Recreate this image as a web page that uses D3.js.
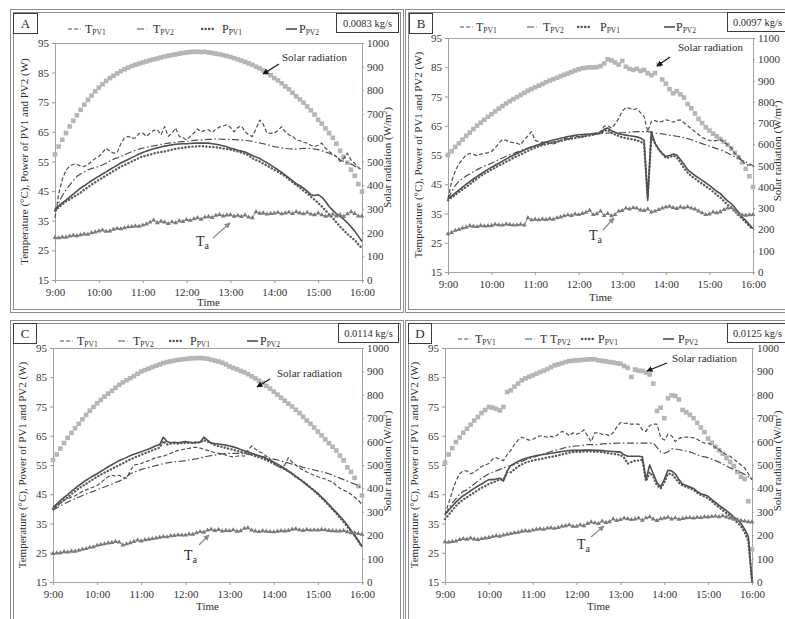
<!DOCTYPE html>
<html>
<head>
<meta charset="utf-8">
<script src="https://cdn.jsdelivr.net/npm/d3@7"></script>
<style>
  body { margin: 0; background: #fff; }
  svg { display: block; }
  text { font-family: "Liberation Serif", "Times New Roman", serif; fill: #2e2e2e; }
  .frame { fill: none; stroke: #8c8c8c; stroke-width: 1; }
  .tick line { stroke: #9a9a9a; }
  .tick text { font-size: 11px; fill: #333; }
</style>
</head>
<body>
<svg id="fig" width="785" height="619"></svg>
<script>
// ---- axis labels ----
const timeTicks = ["9:00", "10:00", "11:00", "12:00", "13:00", "14:00", "15:00", "16:00"];
const hourMinutes = [0, 60, 120, 180, 240, 300, 360, 420];
const leftTicks = [15, 25, 35, 45, 55, 65, 75, 85, 95];
const rightTicks1000 = [0, 100, 200, 300, 400, 500, 600, 700, 800, 900, 1000];
const rightTicks1100 = [0, 100, 200, 300, 400, 500, 600, 700, 800, 900, 1000, 1100];
// one sample every 5 minutes from 9:00 to 16:00
const sampleMinutes = d3.range(0, 421, 5);

// ---- panel A: 0.0083 kg/s ----
const solarA = [530,563,592,620,648,672,695,718,740,760,778,796,812,
  826,840,852,862,872,881,889,896,903,908,913,918,
  922,927,931,935,939,943,946,949,952,955,958,960,
  962,963,963,962,963,960,958,955,952,949,945,941,
  936,931,926,920,914,908,900,893,884,874,864,852,
  842,830,817,805,790,775,762,748,732,716,698,676,
  660,640,620,600,575,545,520,495,465,440,405,373];
const taA = [29.3,29.2,29.5,29.4,29.8,30.1,29.9,30.2,30.5,30.4,30.9,31.2,31.5,
  31.8,31.4,31.5,32.1,32.4,32.3,32.6,32.9,33.0,33.2,33.1,33.5,
  33.9,34.5,35.2,34.3,34.8,34.5,34.0,34.6,34.3,35.0,34.7,35.4,
  35.1,35.6,36.0,35.5,36.2,36.4,36.1,36.8,37.1,36.6,36.9,37.0,
  36.5,36.8,36.4,36.9,36.2,36.0,38.0,37.5,37.6,37.2,37.4,37.5,
  37.8,37.3,37.6,37.9,37.4,38.0,37.6,37.3,37.8,37.2,37.0,37.6,
  37.0,36.5,36.8,37.2,36.6,37.0,36.4,37.3,38.0,37.4,36.6,36.6];
const tpv1A = [36,44,49,52,53.5,54,54,53.5,53.3,54,55,56,56.7,
  58,59.5,58.5,57.8,58,61,63,63.5,62.8,63,64.5,64.6,
  63.5,64.5,65.5,65.7,64,66.8,63.5,64.5,66.3,63.5,63,62.3,
  63.5,64.6,66,65,65.5,65.7,64.8,66,66.6,67,67.4,66.5,
  65,66.5,67,65.1,64,63.4,66,69,67.5,64.6,64.5,64.6,
  65.5,66.8,65,64,63.5,62.3,62,61.5,61.2,60.5,60,60.5,
  61.2,59.5,58.4,57.5,56.7,55,56,57.8,55.5,54.4,53,52.2];
const tpv2A = [38,41,43.5,45.4,47,48.6,50,50.8,51.5,52.2,52.6,53,53.3,
  53.8,54.5,55.2,55.8,56.2,56.7,57.2,57.8,58.3,58.8,59.2,59.5,
  59.8,60.1,60.3,60.5,60.8,61,61.2,61.3,61.5,61.6,61.7,61.8,
  62,62.1,62.2,62.3,62.4,62.5,62.5,62.6,62.6,62.5,62.5,62.5,
  62.4,62.3,62.2,62.1,62,61.8,61.5,61.3,61,60.7,60.4,60,
  59.8,59.6,59.4,59.3,59.2,59.2,59.3,59.4,59.5,59.4,59.2,59,
  58.6,58.2,57.8,57.3,56.6,55.6,55,54.6,54.2,53.5,52.8,52.2];
const ppv1A = [38.5,39.5,40.5,41.5,42.2,43,43.7,44.5,45.5,46.3,47.2,48,48.8,
  49.5,50.3,51,51.8,52.5,53.3,53.8,54.4,55,55.6,56.2,56.7,
  57,57.3,57.7,58,58.2,58.4,58.7,59,59.3,59.5,59.6,59.8,
  60,60,60.1,60.2,60.1,60,59.9,59.8,59.6,59.4,59.2,59,
  58.7,58.4,58,57.6,57.1,56.1,55.5,55,54.3,53.6,52.9,52.2,
  51.5,50.8,50,49,48,47.1,46.2,45.2,44.2,43.2,42.1,41,
  39.8,38.5,37.2,35.9,34.5,33,31.8,30.5,29.5,28.5,27,25.7];
const ppv2A = [39,40,41,42,43,44,45,46,46.8,47.7,48.5,49.3,50,
  50.8,51.5,52.3,53,53.7,54.5,55.1,55.7,56.3,56.9,57.5,58,
  58.5,58.9,59.3,59.6,59.9,60.2,60.4,60.6,60.8,60.9,61,61,
  61.1,61.2,61.2,61.2,61.2,61.2,61,60.8,60.6,60.3,60,59.5,
  59.2,58.8,58.5,58.2,57.6,57,56.5,56,55.3,54.6,53.8,53,
  52.2,51.3,50.4,49.5,48.5,47.5,46.8,46,45,43.8,43.5,43.8,
  43,41.5,39.8,38.5,37.4,36.5,35.5,34.3,33,31.5,29.8,28];

// ---- panel B: 0.0097 kg/s ----
const solarB = [550,568,588,605,622,640,655,672,688,702,716,730,742,
  755,768,780,792,803,813,822,832,842,852,860,868,
  876,884,892,900,906,913,920,927,933,940,947,953,
  958,960,962,962,963,968,980,1000,995,985,975,992,
  965,955,950,955,945,950,935,925,935,975,905,885,
  860,840,850,835,820,790,770,745,720,700,680,665,
  650,638,626,612,598,580,560,540,515,485,450,400];
const taB = [28.0,28.5,29.2,29.5,30.0,30.3,30.8,30.6,30.5,30.9,30.7,30.8,30.9,
  31.3,31.1,31.0,31.4,31.2,31.0,31.1,31.3,31.0,33.5,32.8,33.0,
  32.8,33.1,32.9,33.2,33.0,33.5,33.8,34.2,34.5,34.3,34.8,34.6,
  35.0,35.4,36.1,34.6,34.9,35.8,34.3,35.0,34.2,34.6,35.8,36.0,
  36.8,36.5,37.0,36.8,36.2,36.0,36.5,35.5,35.8,36.3,36.8,37.2,
  37.4,37.0,36.7,37.2,36.9,37.3,36.8,36.5,35.8,35.2,34.6,34.8,
  35.5,35.2,35.6,36.3,36.8,37.0,36.2,34.8,34.5,34.4,34.5,34.6];
const tpv1B = [40,46,49.5,52,53.5,55,55.5,55.2,54.8,55.3,55.5,55.8,56.2,
  57.5,59,60.3,60,59.5,59.2,59,58.5,60.2,61.5,63,60,
  59.5,59.3,59.6,59,58.8,59.2,60,60.5,61,61.2,61.5,61.2,
  61.8,62.2,61.5,62,62.6,63,64.8,65,64.2,65.5,67.5,70,
  71.2,71,70.5,70.8,69.5,68.2,63,66.5,66.8,66.2,66.5,67,
  66.8,66.2,66.8,67,66,65,64,63,62,61,60.5,60,
  59.8,60,60.2,59.5,58.5,57.5,55.5,54.5,53,51.8,51.5,51];
const tpv2B = [40,42.5,44.5,46,47,47.8,48.5,49.3,50,50.6,51.2,51.7,52.2,
  52.8,53.4,54,54.6,55.1,55.5,56,56.5,57,57.4,57.8,58,
  58.3,58.6,58.9,59.2,59.4,59.6,59.9,60.2,60.5,60.7,60.9,61.1,
  61.3,61.5,61.7,61.9,62.1,62.3,62.4,62.5,62.6,62.6,62.6,62.6,
  62.7,62.8,62.9,63,63,63,63,62.8,62.5,62.4,62.2,62,
  61.8,61.6,61.4,61.2,60.9,60.6,60.2,59.8,59.3,58.9,58.4,58,
  57.6,57.2,56.8,56.3,55.7,55,54.4,53.8,53.2,52.6,52,51.3];
const ppv1B = [39.5,40.5,41.4,42.3,43.2,44.1,45,46,46.9,47.8,48.6,49.3,50,
  50.7,51.4,52,52.7,53.3,54,54.6,55.2,55.8,56.4,57,57.5,
  57.9,58.3,58.7,59,59.3,59.5,59.8,60.1,60.4,60.6,60.8,61,
  61.2,61.5,61.8,62,62.3,62.5,63.2,63.6,62.6,62,61.5,61,
  60.8,60.5,60.3,60,59.6,58.8,40.5,61.5,59,57,55.5,54,
  54.2,54.8,54.2,52.5,50.5,49,47.8,47,46,45.2,44.3,43.5,
  42.5,41.4,40.5,39.2,38,37,35.8,34.5,33.2,32,30.8,29.5];
const ppv2B = [40,41,42,43,44,45,45.9,46.8,47.7,48.5,49.3,50.1,50.8,
  51.5,52.2,52.9,53.6,54.3,54.9,55.5,56.1,56.7,57.2,57.7,58.2,
  58.6,59,59.4,59.8,60.1,60.4,60.7,61,61.3,61.5,61.7,61.9,
  62,62.1,62.2,62.3,62.4,62.5,63.8,64.2,63.3,62.8,62.3,62,
  61.8,61.6,61.4,61.2,60.8,60,39.5,63,59,57,55.5,54.5,
  54.8,55.3,55,53.5,51.8,50,49,48,47.2,46.3,45.5,44.6,
  43.6,42.6,41.8,40.5,39.3,38.4,37,35.5,33.8,32.6,31.2,29.8];

// ---- panel C: 0.0114 kg/s ----
const solarC = [521,545,570,594,616,637,657,676,695,714,732,748,764,
  778,792,805,817,830,843,853,862,871,880,890,900,
  906,912,918,924,930,936,940,943,946,949,951,953,
  955,956,957,957,956,954,950,946,942,937,930,921,
  915,909,902,896,888,879,870,860,850,838,826,814,
  801,788,775,762,750,736,722,706,690,676,660,643,
  627,610,593,578,562,540,520,490,471,445,410,370];
const taC = [24.7,24.9,25.0,25.3,25.2,25.5,25.5,25.8,26.2,26.4,26.8,27.0,27.5,
  27.8,28.0,28.3,28.5,28.8,28.6,27.6,28.0,28.4,28.8,29.3,29.0,
  29.4,29.6,29.8,30.0,30.3,30.5,30.4,30.8,30.9,31.1,31.0,31.0,
  31.4,31.3,31.8,32.2,32.0,32.7,33.0,32.6,32.9,32.4,32.6,32.5,
  32.8,32.3,32.5,33.3,33.5,32.7,32.4,32.2,32.5,32.3,32.2,32.1,
  32.3,32.5,32.4,32.6,33.0,33.2,32.8,32.6,32.9,32.7,32.8,32.7,
  32.9,32.8,32.6,32.5,32.4,32.4,32.6,32.1,31.8,31.8,31.5,31.3];
const tpv1C = [40,41,42,43,43.5,44,44.5,45.2,46,46.5,47,47.5,48,
  49,50,51,51.5,51.2,51.5,50.8,50.5,53,55,55.2,55.5,
  56,56.5,57,57.5,57.8,58,58.5,59,59.5,60,60.2,60.5,
  60.7,61,61,60.8,60.3,60,59.6,59.2,59,58.8,58.4,58,
  57.8,58,58.2,58,60,61.5,60.5,59.6,59,58,57,55.5,
  54.6,54,55,57.5,56,55,54,53.3,52.6,52,51.5,51,
  50.5,50.2,49.6,49.2,48,47,46.4,45.8,45,44,43,41.5];
const tpv2C = [39.5,40.3,41,41.7,42.3,42.9,43.5,44,44.6,45.1,45.6,46,46.5,
  47,47.5,48,48.5,49,49.5,50,51,52,52.5,53,53.5,
  53.8,54.2,54.5,54.8,55.1,55.5,55.7,55.9,56.1,56.2,56.3,56.5,
  56.7,56.9,57.1,57.4,57.7,58,58.2,58.4,58.6,58.8,59,59,
  59,59,58.9,58.8,58.7,58.5,58.3,58.1,57.9,57.6,57.3,57,
  56.7,56.4,56,55.7,55.3,55,54.6,54.2,53.9,53.6,53.3,53,
  52.7,52.4,52,51.5,51,50.5,50,49.5,49,48.5,47.8,47];
const ppv1C = [40,41,42,43,44,45,46,47,47.8,48.6,49.4,50.2,51,
  51.7,52.4,53,53.7,54.3,55,55.6,56.3,56.9,57.4,58,58.5,
  59,59.5,60,60.5,61,63.2,62,62.3,62.4,62.3,62.5,62.5,
  62.6,62.7,62.7,62.8,63.5,63,62.5,61.8,61.5,61.2,60.8,60.5,
  60.2,59.8,59.5,59.2,58.8,58.5,58,57.6,57.2,56.7,56.1,55.5,
  54.8,54.2,53.5,52.8,52,51,50.2,49.3,48.4,47.3,46.2,45,
  43.8,42.5,41.2,39.8,38.5,37,35.6,34,32.4,30.8,29,27];
const ppv2C = [40.5,41.6,42.8,43.9,44.9,46,47,48,48.9,49.8,50.6,51.3,52,
  52.8,53.6,54.4,55.1,55.8,56.5,57,57.6,58.2,58.7,59.1,59.5,
  60,60.5,61,61.6,62,64.5,63,62.6,62.8,62.6,62.8,63,
  62.8,62.5,62.7,62.8,64.5,63.5,62.5,62.3,62.2,62,61.8,61.5,
  61.2,60.8,60.3,59.9,59.5,59,58.6,58.2,57.7,57.2,56.6,56,
  55.3,54.6,53.8,53,52.1,51.1,50.2,49.2,48.2,47.2,46.2,45.2,
  44,42.8,41.5,40.1,38.8,37.5,36,34.4,32.7,31,29.2,27];

// ---- panel D: 0.0125 kg/s ----
const solarD = [510,545,572,598,618,638,655,672,690,705,722,735,748,
  745,740,733,748,812,819,835,848,862,870,877,883,
  890,897,903,910,918,926,930,935,940,944,946,947,
  948,950,951,952,952,947,945,943,940,938,935,933,
  923,915,876,908,903,902,895,887,848,731,745,700,
  785,798,795,780,735,725,715,700,680,660,640,613,
  595,578,563,548,530,513,495,470,450,440,345,140];
const taD = [28.7,28.6,28.8,29.0,29.5,29.8,29.6,30.0,29.7,29.5,29.8,30.0,30.2,
  30.5,30.8,30.6,31.0,31.3,31.5,31.8,32.0,32.3,32.5,32.4,32.7,
  33.0,33.2,33.0,33.4,33.5,33.3,33.6,34.0,34.2,34.5,34.0,34.0,
  34.5,34.2,35.0,35.5,35.2,35.0,35.8,35.3,35.6,36.5,36.0,36.3,
  36.8,36.6,36.3,36.5,36.8,36.1,36.9,37.3,36.5,36.0,36.6,36.8,
  37.1,36.5,36.9,36.4,36.7,36.9,37.0,36.8,37.1,37.0,37.3,37.2,
  37.4,37.5,37.3,37.6,37.2,36.8,36.5,36.3,36.0,35.8,35.6,35.5];
const tpv1D = [38,42,46,49.5,52,53,53,52,52.5,53.5,54.5,55,55.5,
  57,57.5,57,56.5,58.5,60,62,63.5,64.5,64,63.5,63.8,
  64.5,65,64.8,64.5,64.8,64.5,65.5,66.5,66,65,66,65.5,
  66,67,65,63,66,66,65.5,65.5,65,66,68,69.5,
  69.3,69.2,69,69,69,67,66.5,68.5,69,69,64.5,63.5,
  65.5,65,63,64,64.5,64.5,64.5,64.3,63.8,63,62.5,62.5,
  61.8,61,60.2,59.3,58.5,58,57,56,55,54,52,50];
const tpv2D = [38,40,42,43.5,45,46,46.5,47.5,48.5,49.5,50.5,51.2,52,
  52.5,53,53.5,54,54.5,54.8,55.2,55.6,56.2,56.8,57.2,57.5,
  58,58.4,58.8,59.2,59.6,60,60.3,60.6,61,61.2,61.4,61.5,
  61.6,61.8,62,62,62,62,62.2,62.3,62.3,62.4,62.5,62.5,
  62.5,62.5,62.5,62.5,62.5,62.5,62.5,62.5,62.5,61,59.5,59,
  59.5,60.5,60.5,60.3,60,59.8,59.5,59,58.5,58,57.8,57.5,
  57,56.5,56,55.3,54.7,54,53.5,53,52.4,51.8,51,50];
const ppv1D = [36.5,38,39.5,41,42.2,43.2,44,44.8,45.6,46.4,47.2,47.8,48.5,
  49,49.5,50,50,52.5,52.5,53.5,54.5,55.2,55.8,56.2,56.5,
  56.8,57,57.3,57.6,57.8,58,58.3,58.6,58.9,59.2,59.4,59.5,
  59.5,59.6,59.6,59.6,59.5,59.5,59.4,59.2,59,58.8,58.6,58.5,
  57.5,55.5,56,56.5,56.5,56.8,49.5,52.5,51,48,47,49,
  52,52,50.5,49,48,47.5,47,46.5,45.5,44.8,44.2,43.6,
  42.6,41.5,40.5,39.5,38.5,37.5,36.5,35.3,34,32,29,15];
const ppv2D = [38,39.5,41,42.3,43.5,44.5,45.3,46.2,47,47.8,48.5,49.3,50,
  50,50.2,50.5,49.5,53,54.8,55.5,56.2,56.8,57.2,57.6,57.9,
  58.2,58.4,58.6,58.8,59,59.2,59.4,59.6,59.8,59.9,60,60,
  60,60.1,60.1,60.1,60,60,59.9,59.8,59.7,59.6,59.5,59.5,
  58.5,58,58,58,58,57.8,50,55,52,49,47.5,50,
  53.2,53,52,50,48.5,48,47.5,47,46,45.2,44.8,44.3,
  43.2,42.2,41.2,40.3,39.4,38.4,37.3,36.2,35,33,30.5,15.5];

// ---- panel layout ----
const panels = [
  { letter: "A", rate: "0.0083 kg/s", frame: [10, 9, 403, 312], plot: [55, 43, 362, 280],
    rmax: 1000, rTicks: rightTicks1000, legendY: 33,
    legendGlyphX: [68, 137, 202, 286], legendTextX: [85, 153, 222, 299], pv2Prefix: "T",
    letterBox: [13, 13, 24, 20], rateBox: [336, 13, 62, 19],
    solarText: [282, 61], solarArrow: [279, 64, 263, 74],
    taText: [196, 246], taArrow: [213, 238, 230, 223],
    leftTitleX: 28, rightTitleX: 391, timeY: 306,
    solar: solarA, ta: taA, tpv1: tpv1A, tpv2: tpv2A, ppv1: ppv1A, ppv2: ppv2A },
  { letter: "B", rate: "0.0097 kg/s", frame: [405, 9, 800, 312], plot: [448, 38, 753, 272],
    rmax: 1100, rTicks: rightTicks1100, legendY: 31,
    legendGlyphX: [460, 527, 578, 664], legendTextX: [476, 543, 600, 676], pv2Prefix: "T",
    letterBox: [409, 13, 23, 20], rateBox: [727, 12, 60, 19],
    solarText: [678, 51], solarArrow: [670, 57, 657, 66],
    taText: [589, 240], taArrow: [603, 230, 614, 218],
    leftTitleX: 422, rightTitleX: 781, timeY: 301,
    solar: solarB, ta: taB, tpv1: tpv1B, tpv2: tpv2B, ppv1: ppv1B, ppv2: ppv2B },
  { letter: "C", rate: "0.0114 kg/s", frame: [10, 320, 403, 625], plot: [53, 348, 362, 582],
    rmax: 1000, rTicks: rightTicks1000, legendY: 345,
    legendGlyphX: [60, 118, 170, 247], legendTextX: [77, 133, 190, 260], pv2Prefix: "T",
    letterBox: [13, 323, 23, 20], rateBox: [338, 323, 60, 19],
    solarText: [277, 377], solarArrow: [270, 379, 257, 387],
    taText: [184, 560], taArrow: [199, 545, 209, 535],
    leftTitleX: 26, rightTitleX: 391, timeY: 610,
    solar: solarC, ta: taC, tpv1: tpv1C, tpv2: tpv2C, ppv1: ppv1C, ppv2: ppv2C },
  { letter: "D", rate: "0.0125 kg/s", frame: [405, 320, 800, 625], plot: [445, 348, 752, 582],
    rmax: 1000, rTicks: rightTicks1000, legendY: 343,
    legendGlyphX: [458, 525, 582, 663], legendTextX: [475, 540, 598, 678], pv2Prefix: "T T",
    letterBox: [408, 323, 23, 20], rateBox: [727, 323, 60, 19],
    solarText: [672, 362], solarArrow: [667, 363, 647, 371],
    taText: [577, 549], taArrow: [591, 537, 604, 526],
    leftTitleX: 418, rightTitleX: 781, timeY: 610,
    solar: solarD, ta: taD, tpv1: tpv1D, tpv2: tpv2D, ppv1: ppv1D, ppv2: ppv2D }
];

const svg = d3.select("#fig");
const defs = svg.append("defs");
function arrowMarker(id, color) {
  defs.append("marker").attr("id", id).attr("viewBox", "0 0 10 10")
    .attr("refX", 9).attr("refY", 5).attr("markerWidth", 5).attr("markerHeight", 5)
    .attr("orient", "auto")
    .append("path").attr("d", "M0,0L10,5L0,10z").attr("fill", color);
}
arrowMarker("arrowDark", "#151515");
arrowMarker("arrowGray", "#8a8a8a");

const lineColor = "#4f4f4f";
const styles = {
  tpv1: { dash: "4,2.2", width: 1.2 },
  tpv2: { dash: "7,2.5,1.6,2.5", width: 1.2 },
  ppv1: { dash: "0.3,3.2", width: 2.3, cap: "round" },
  ppv2: { dash: null, width: 1.6 }
};

function subLabel(g, x, y, main, sub, size, subSize, dy) {
  const t = g.append("text").attr("x", x).attr("y", y).attr("font-size", size).text(main);
  t.append("tspan").attr("font-size", subSize).attr("dy", dy).text(sub);
  return t;
}

function drawPanel(p) {
  const g = svg.append("g");
  const [fx0, fy0, fx1, fy1] = p.frame;
  g.append("rect").attr("class", "frame").attr("x", fx0 + 0.5).attr("y", fy0 + 0.5)
    .attr("width", fx1 - fx0).attr("height", fy1 - fy0);
  g.append("rect").attr("class", "frame").attr("x", fx0 + 3.5).attr("y", fy0 + 3.5)
    .attr("width", fx1 - fx0 - 6).attr("height", fy1 - fy0 - 6);

  const [px0, py0, px1, py1] = p.plot;
  const x = d3.scaleLinear().domain([0, 420]).range([px0, px1]);
  const yL = d3.scaleLinear().domain([15, 95]).range([py1, py0]);
  const yR = d3.scaleLinear().domain([0, p.rmax]).range([py1, py0]);

  // plot box
  g.append("rect").attr("x", px0 + 0.5).attr("y", py0 + 0.5)
    .attr("width", px1 - px0).attr("height", py1 - py0)
    .attr("fill", "none").attr("stroke", "#a3a3a3");

  const ax = g.append("g").attr("transform", `translate(0,${py1})`)
    .call(d3.axisBottom(x).tickValues(hourMinutes).tickFormat((d, i) => timeTicks[i]).tickSize(3).tickPadding(5));
  const al = g.append("g").attr("transform", `translate(${px0},0)`)
    .call(d3.axisLeft(yL).tickValues(leftTicks).tickFormat(d3.format("d")).tickSize(3).tickPadding(3));
  const ar = g.append("g").attr("transform", `translate(${px1},0)`)
    .call(d3.axisRight(yR).tickValues(p.rTicks).tickFormat(d3.format("d")).tickSize(2).tickPadding(3));
  [ax, al, ar].forEach(a => { a.select(".domain").remove(); a.attr("font-family", null).attr("font-size", null); });

  // axis titles
  g.append("text").attr("transform", `translate(${p.leftTitleX},${(py0 + py1) / 2}) rotate(-90)`)
    .attr("text-anchor", "middle").attr("font-size", 11)
    .text("Temperature (\u00B0C), Power of  PV1 and PV2 (W)");
  const rt = g.append("text").attr("transform", `translate(${p.rightTitleX},${(py0 + py1) / 2 - 4}) rotate(-90)`)
    .attr("text-anchor", "middle").attr("font-size", 11).text("Solar radiation (W/m");
  rt.append("tspan").attr("font-size", 7).attr("dy", -4).text("2");
  rt.append("tspan").attr("dy", 4).text(")");
  g.append("text").attr("x", (px0 + px1) / 2).attr("y", p.timeY).attr("text-anchor", "middle")
    .attr("font-size", 11).text("Time");

  // solar radiation squares
  g.append("g").selectAll("rect").data(p.solar).join("rect")
    .attr("x", (d, i) => x(sampleMinutes[i]) - 2.3).attr("y", d => yR(d) - 2.3)
    .attr("width", 4.6).attr("height", 4.6).attr("fill", "#b5b5b5");

  // PV temperatures and powers
  const line = d3.line().x((d, i) => x(sampleMinutes[i])).y(d => yL(d));
  ["tpv2", "tpv1", "ppv1", "ppv2"].forEach(k => {
    const s = styles[k];
    g.append("path").attr("d", line(p[k])).attr("fill", "none")
      .attr("stroke", k === "ppv1" ? "#5a5a5a" : lineColor).attr("stroke-width", s.width)
      .attr("stroke-dasharray", s.dash).attr("stroke-linecap", s.cap || "butt")
      .attr("stroke-linejoin", "round");
  });

  // ambient temperature with triangles
  g.append("path").attr("d", line(p.ta)).attr("fill", "none").attr("stroke", "#8a8a8a").attr("stroke-width", 1);
  const tri = d3.symbol().type(d3.symbolTriangle).size(10);
  g.append("g").selectAll("path").data(p.ta).join("path")
    .attr("transform", (d, i) => `translate(${x(sampleMinutes[i])},${yL(d)})`)
    .attr("d", tri).attr("fill", "#7a7a7a");

  // legend
  const ly = p.legendY;
  const gx = p.legendGlyphX, tx = p.legendTextX;
  const keys = ["tpv1", "tpv2", "ppv1", "ppv2"];
  const labels = [["T", "PV1"], [p.pv2Prefix, "PV2"], ["P", "PV1"], ["P", "PV2"]];
  const glyphLen = [13, 10, 14, 11];
  keys.forEach((k, i) => {
    const s = styles[k];
    g.append("line").attr("x1", gx[i]).attr("x2", gx[i] + glyphLen[i]).attr("y1", ly - 4).attr("y2", ly - 4)
      .attr("stroke", lineColor).attr("stroke-width", s.width)
      .attr("stroke-dasharray", s.dash).attr("stroke-linecap", s.cap || "butt");
    subLabel(g, tx[i], ly, labels[i][0], labels[i][1], 12, 7.5, 2);
  });

  // panel letter and flow rate boxes
  const [lbx, lby, lbw, lbh] = p.letterBox;
  g.append("rect").attr("x", lbx + 0.5).attr("y", lby + 0.5).attr("width", lbw).attr("height", lbh)
    .attr("fill", "#fff").attr("stroke", "#3a3a3a");
  g.append("text").attr("x", lbx + lbw / 2 + 0.5).attr("y", lby + lbh / 2 + 5).attr("text-anchor", "middle")
    .attr("font-size", 13).text(p.letter);
  const [rbx, rby, rbw, rbh] = p.rateBox;
  g.append("rect").attr("x", rbx + 0.5).attr("y", rby + 0.5).attr("width", rbw).attr("height", rbh)
    .attr("fill", "#fff").attr("stroke", "#3a3a3a");
  g.append("text").attr("x", rbx + rbw / 2 + 0.5).attr("y", rby + rbh / 2 + 4).attr("text-anchor", "middle")
    .attr("font-size", 10.5).text(p.rate);

  // annotations
  g.append("text").attr("x", p.solarText[0]).attr("y", p.solarText[1]).attr("font-size", 11).text("Solar radiation");
  const sa = p.solarArrow;
  g.append("line").attr("x1", sa[0]).attr("y1", sa[1]).attr("x2", sa[2]).attr("y2", sa[3])
    .attr("stroke", "#151515").attr("stroke-width", 1.2).attr("marker-end", "url(#arrowDark)");
  subLabel(g, p.taText[0], p.taText[1], "T", "a", 14, 10, 3);
  const ta = p.taArrow;
  g.append("line").attr("x1", ta[0]).attr("y1", ta[1]).attr("x2", ta[2]).attr("y2", ta[3])
    .attr("stroke", "#8a8a8a").attr("stroke-width", 1.2).attr("marker-end", "url(#arrowGray)");
}

panels.forEach(drawPanel);
</script>
</body>
</html>
